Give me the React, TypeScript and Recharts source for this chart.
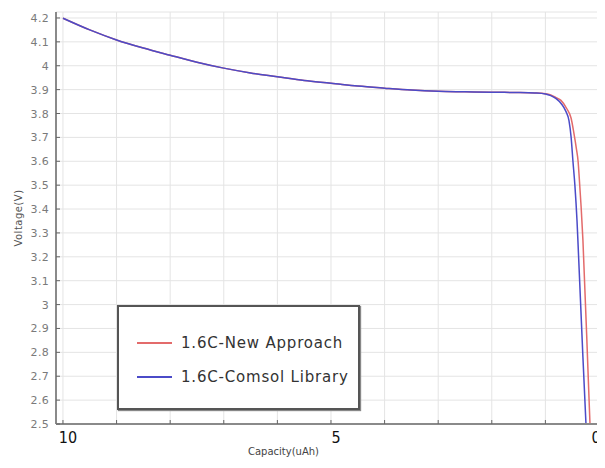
import React from 'react';
import { LineChart, Line, XAxis, YAxis, CartesianGrid, Legend } from 'recharts';

// Capacity (uAh) and voltage (V)
const capNew = [10, 9.5, 9, 8.5, 8, 7.5, 7, 6.5, 6, 5.5, 5, 4.5, 4, 3.5, 3, 2.5, 2, 1.5, 1.2, 1.0, 0.9, 0.8, 0.71, 0.6, 0.52, 0.47, 0.42, 0.39, 0.374, 0.3, 0.2, 0.168];
const voltNew = [4.199, 4.15, 4.108, 4.074, 4.044, 4.015, 3.99, 3.97, 3.954, 3.938, 3.927, 3.915, 3.906, 3.898, 3.893, 3.891, 3.889, 3.888, 3.886, 3.883, 3.878, 3.866, 3.855, 3.82, 3.78, 3.72, 3.65, 3.6, 3.55, 3.27, 2.69, 2.5];

const capLib = [10, 9.5, 9, 8.5, 8, 7.5, 7, 6.5, 6, 5.5, 5, 4.5, 4, 3.5, 3, 2.5, 2, 1.5, 1.2, 1.0, 0.9, 0.8, 0.7, 0.62, 0.56, 0.52, 0.486, 0.45, 0.41, 0.39, 0.3, 0.243];
const voltLib = [4.199, 4.15, 4.108, 4.074, 4.044, 4.015, 3.99, 3.97, 3.954, 3.938, 3.927, 3.915, 3.906, 3.898, 3.893, 3.891, 3.889, 3.888, 3.886, 3.882, 3.875, 3.862, 3.84, 3.81, 3.77, 3.7, 3.6, 3.5, 3.35, 3.25, 2.78, 2.5];

const seriesNames = ['1.6C-New Approach', '1.6C-Comsol Library'];
const seriesColors = ['#e36b6b', '#4b4bc8'];

const xTicks = [0, 1, 2, 3, 4, 5, 6, 7, 8, 9, 10];
const xTickLabels: Record<number, string> = { 10: '10', 5: '5', 0: '0' };
const yTicks = [2.5, 2.6, 2.7, 2.8, 2.9, 3.0, 3.1, 3.2, 3.3, 3.4, 3.5, 3.6, 3.7, 3.8, 3.9, 4.0, 4.1, 4.2];

const xTitle = 'Capacity(uAh)';
const yTitle = 'Voltage(V)';

const newData = capNew.map((c, i) => ({ cap: c, v: voltNew[i] }));
const libData = capLib.map((c, i) => ({ cap: c, v: voltLib[i] }));

const AXIS_COLOR = '#8a8a8a';
const FONT = '"DejaVu Sans", sans-serif';

const fmtY = (v: number) => parseFloat(v.toFixed(1)).toString();

const LeftTick = (props: any) => {
  const { x, y, payload } = props;
  return (
    <g>
      <line x1={x + 7} x2={x + 11} y1={y} y2={y} stroke="#666" strokeWidth={1} />
      <text x={x} y={y + 4} textAnchor="end" fontSize={11} fill="#7a7a7a" fontFamily={FONT} letterSpacing={0.3}>
        {fmtY(payload.value)}
      </text>
    </g>
  );
};

const RightTick = (props: any) => {
  const { x, y } = props;
  return <line x1={x} x2={x - 4} y1={y} y2={y} stroke="#666" strokeWidth={1} />;
};

const BottomTick = (props: any) => {
  const { x, y, payload } = props;
  const label = xTickLabels[payload.value];
  const dx = payload.value === 0 ? -3 : 5;
  return (
    <g>
      <line x1={x} x2={x} y1={y} y2={y - 4} stroke="#666" strokeWidth={1} />
      {label !== undefined && (
        <text x={x + dx} y={y + 19} textAnchor="middle" fontSize={16} fill="#111" fontFamily='"DejaVu Sans Condensed", "DejaVu Sans", sans-serif'>
          {label}
        </text>
      )}
    </g>
  );
};

const TopTick = (props: any) => {
  const { x, y } = props;
  return <line x1={x} x2={x} y1={y} y2={y + 4} stroke="#666" strokeWidth={1} />;
};

const YTitle = (props: any) => {
  const vb = props.viewBox;
  const cx = vb.x + 10;
  const cy = vb.y + vb.height / 2;
  return (
    <text x={cx} y={cy} transform={`rotate(-90, ${cx}, ${cy})`} textAnchor="middle" dominantBaseline="central" fontSize={10} fill="#555" fontFamily={FONT} letterSpacing={0.5}>
      {yTitle}
    </text>
  );
};

const XTitle = (props: any) => {
  const vb = props.viewBox;
  const cx = vb.x + vb.width / 2 - 44;
  const cy = vb.y + 31;
  return (
    <text x={cx} y={cy} textAnchor="middle" fontSize={10} fill="#444" fontFamily={FONT}>
      {xTitle}
    </text>
  );
};

const LegendBox = (props: any) => {
  const payload = [...(props.payload || [])].sort(
    (a: any, b: any) => seriesNames.indexOf(a.value) - seriesNames.indexOf(b.value)
  );
  return (
    <div
      style={{
        width: 239,
        height: 101,
        border: '2px solid #555',
        boxShadow: '1px 1px 1px #888',
        background: '#fff',
        position: 'relative',
        fontFamily: FONT,
      }}
    >
      {payload.map((p: any, i: number) => (
        <div key={i} style={{ position: 'absolute', left: 18, top: 27 + i * 34, display: 'flex', alignItems: 'center', height: 18 }}>
          <span style={{ display: 'inline-block', width: 35, height: 2, background: p.color }} />
          <span style={{ marginLeft: 9, fontSize: 15, color: '#333', letterSpacing: 0.8, whiteSpace: 'nowrap' }}>{p.value}</span>
        </div>
      ))}
    </div>
  );
};

export default function App() {
  return (
    <LineChart width={597} height={456} margin={{ top: 4, right: 6, bottom: 0, left: 0 }}>
      <CartesianGrid stroke="#e4e4e4" strokeWidth={1} />
      <XAxis
        dataKey="cap"
        type="number"
        domain={[0, 10.13]}
        reversed
        allowDataOverflow
        ticks={xTicks}
        interval={0}
        height={40}
        tickSize={0}
        tickMargin={0}
        tickLine={false}
        axisLine={{ stroke: AXIS_COLOR, strokeWidth: 2 }}
        tick={<BottomTick />}
        label={<XTitle />}
      />
      <XAxis
        xAxisId="top"
        orientation="top"
        dataKey="cap"
        type="number"
        domain={[0, 10.13]}
        reversed
        allowDataOverflow
        ticks={xTicks}
        interval={0}
        height={0}
        tickSize={0}
        tickMargin={0}
        tickLine={false}
        axisLine={{ stroke: AXIS_COLOR, strokeWidth: 2 }}
        tick={<TopTick />}
      />
      <YAxis
        type="number"
        domain={[2.5, 4.225]}
        allowDataOverflow
        ticks={yTicks}
        interval={0}
        width={48}
        tickSize={0}
        tickMargin={7}
        tickLine={false}
        axisLine={{ stroke: AXIS_COLOR, strokeWidth: 2 }}
        tick={<LeftTick />}
        label={<YTitle />}
      />
      <YAxis
        yAxisId="right"
        orientation="right"
        type="number"
        domain={[2.5, 4.225]}
        allowDataOverflow
        ticks={yTicks}
        interval={0}
        width={0}
        tickSize={0}
        tickMargin={0}
        tickLine={false}
        axisLine={{ stroke: AXIS_COLOR, strokeWidth: 2 }}
        tick={<RightTick />}
      />
      <Legend
        layout="vertical"
        align="center"
        verticalAlign="middle"
        content={<LegendBox />}
        wrapperStyle={{ position: 'absolute', left: 109, top: 297, width: 'auto', height: 'auto' }}
      />
      <Line
        data={newData}
        dataKey="v"
        name={seriesNames[0]}
        type="monotone"
        stroke={seriesColors[0]}
        strokeWidth={1.5}
        dot={false}
        isAnimationActive={false}
      />
      <Line
        data={libData}
        dataKey="v"
        name={seriesNames[1]}
        type="monotone"
        stroke={seriesColors[1]}
        strokeWidth={1.5}
        dot={false}
        isAnimationActive={false}
      />
    </LineChart>
  );
}
